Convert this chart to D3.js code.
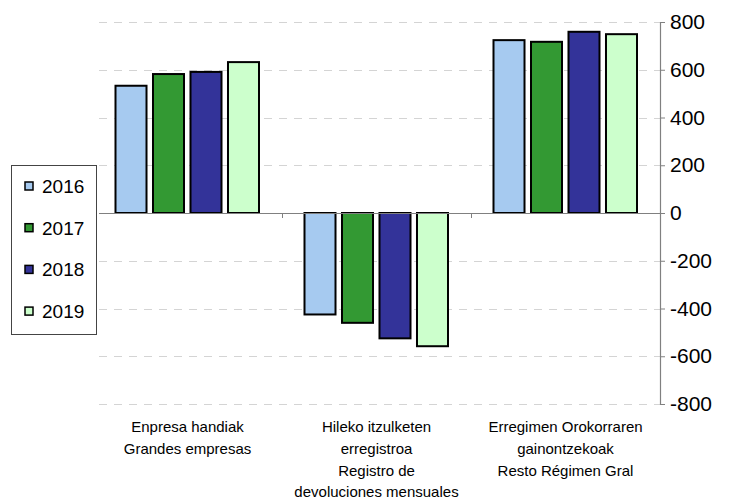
<!DOCTYPE html>
<html>
<head>
<meta charset="utf-8">
<script src="https://cdn.jsdelivr.net/npm/d3@7/dist/d3.min.js"></script>
<style>
  body { margin: 0; background: #fff; }
  svg { display: block; font-family: "Liberation Sans", Arial, sans-serif; }
</style>
</head>
<body>
<div id="chart"></div>
<script>
const categories = [
  ["Enpresa handiak", "Grandes empresas"],
  ["Hileko itzulketen", "erregistroa", "Registro de", "devoluciones mensuales"],
  ["Erregimen Orokorraren", "gainontzekoak", "Resto Régimen Gral"]
];
const years = ["2016", "2017", "2018", "2019"];
const values2016 = [533, -425, 724];
const values2017 = [582, -460, 717];
const values2018 = [591, -525, 759];
const values2019 = [632, -558, 749];
const yTicks = [800, 600, 400, 200, 0, -200, -400, -600, -800];
const colors = ["#a6caf0", "#339933", "#333399", "#ccffcc"];

const series = [values2016, values2017, values2018, values2019];

const width = 736, height = 500;
const plot = { left: 93, right: 660, top: 22, bottom: 404 };

const svg = d3.select("#chart").append("svg")
  .attr("width", width)
  .attr("height", height);

const x = d3.scaleBand()
  .domain(d3.range(categories.length))
  .range([plot.left, plot.right])
  .padding(0);

const xInner = d3.scaleBand()
  .domain(d3.range(years.length))
  .range([22.5, 166])
  .paddingInner(0.173)
  .paddingOuter(0);

const y = d3.scaleLinear()
  .domain([-800, 800])
  .range([plot.bottom, plot.top]);

// gridlines
svg.append("g")
  .selectAll("line")
  .data(yTicks.filter(d => d !== 0))
  .enter()
  .append("line")
  .attr("x1", plot.left + 6)
  .attr("x2", plot.right)
  .attr("y1", d => Math.round(y(d)) + 0.5)
  .attr("y2", d => Math.round(y(d)) + 0.5)
  .attr("stroke", "#d4d4d4")
  .attr("stroke-width", 1)
  .attr("stroke-dasharray", "8,7");

// bars
series.forEach((vals, si) => {
  svg.append("g")
    .selectAll("rect")
    .data(vals)
    .enter()
    .append("rect")
    .attr("x", (d, i) => x(i) + xInner(si))
    .attr("width", xInner.bandwidth())
    .attr("y", d => y(Math.max(0, d)))
    .attr("height", d => Math.abs(y(d) - y(0)))
    .attr("fill", colors[si])
    .attr("stroke", "#000")
    .attr("stroke-width", 2);
});

// zero line + category ticks
svg.append("line")
  .attr("x1", plot.left + 6)
  .attr("x2", plot.right)
  .attr("y1", Math.round(y(0)) + 0.5)
  .attr("y2", Math.round(y(0)) + 0.5)
  .attr("stroke", "#808080")
  .attr("stroke-width", 1.2);

svg.append("g")
  .selectAll("line")
  .data(d3.range(1, categories.length))
  .enter()
  .append("line")
  .attr("x1", d => Math.round(x(d)) + 0.5)
  .attr("x2", d => Math.round(x(d)) + 0.5)
  .attr("y1", y(0))
  .attr("y2", y(0) + 5)
  .attr("stroke", "#808080");

// y axis on the right
const yAxis = svg.append("g")
  .attr("transform", "translate(" + plot.right + ",0)")
  .call(d3.axisRight(y).tickValues(yTicks).tickSize(5).tickPadding(5).tickFormat(d3.format("d")));

yAxis.select(".domain").attr("stroke", "#808080").attr("stroke-width", 1.2);
yAxis.selectAll(".tick line").attr("stroke", "#808080");
yAxis.selectAll(".tick text")
  .attr("fill", "#000")
  .style("font-size", "21px")
  .style("font-family", "'Liberation Sans', Arial, sans-serif")
  .text(d => d < 0 ? "-" + Math.abs(d) : d);

// category labels
const catLabels = svg.append("g")
  .selectAll("text")
  .data(categories)
  .enter()
  .append("text")
  .attr("x", (d, i) => x(i) + x.bandwidth() / 2)
  .attr("y", 432)
  .attr("text-anchor", "middle")
  .attr("font-size", "15px")
  .attr("fill", "#000");

catLabels.selectAll("tspan")
  .data(d => d)
  .enter()
  .append("tspan")
  .attr("x", function() { return d3.select(this.parentNode).attr("x"); })
  .attr("dy", (d, i) => i === 0 ? 0 : 21.8)
  .text(d => d);

// legend
const legend = svg.append("g");
legend.append("rect")
  .attr("x", 11.5)
  .attr("y", 165.5)
  .attr("width", 85)
  .attr("height", 169)
  .attr("fill", "#fff")
  .attr("stroke", "#444")
  .attr("stroke-width", 1);

const legendItem = legend.selectAll("g.item")
  .data(years)
  .enter()
  .append("g")
  .attr("class", "item")
  .attr("transform", (d, i) => "translate(0," + (186 + i * 41.7) + ")");

legendItem.append("rect")
  .attr("x", 25)
  .attr("y", -4)
  .attr("width", 8)
  .attr("height", 8)
  .attr("fill", (d, i) => colors[i])
  .attr("stroke", "#000")
  .attr("stroke-width", 1.5);

legendItem.append("text")
  .attr("x", 42)
  .attr("y", 0)
  .attr("dy", "0.36em")
  .attr("font-size", "19px")
  .attr("fill", "#000")
  .text(d => d);
</script>
</body>
</html>
